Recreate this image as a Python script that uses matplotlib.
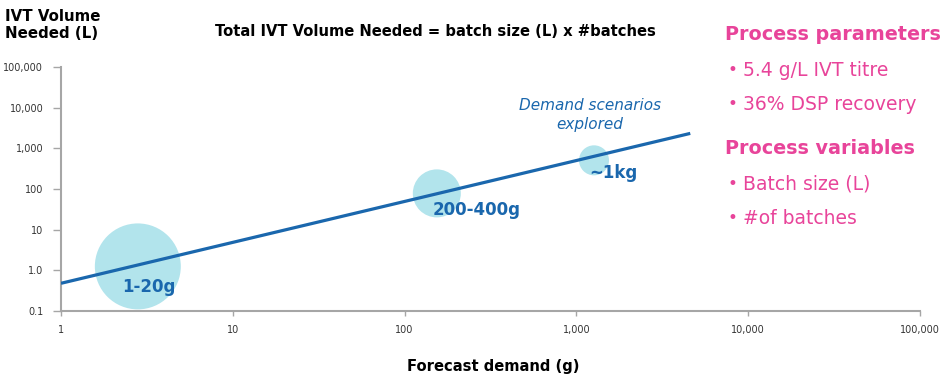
import matplotlib.pyplot as plt

# forecast demand (g) vs IVT volume needed (L)
line_demand = [1, 4600]
line_volume = [0.48, 2330]

scenario_demand = [2.8, 154, 1266]
scenario_volume = [1.25, 78, 507]
scenario_size = [3830, 1195, 467]
scenario_labels = ['1-20g', '200-400g', '~1kg']
label_offsets = [(8, -15), (29, -12), (14, -9)]

tick_vals_x = [1, 10, 100, 1000, 10000, 100000]
tick_labels_x = ['1', '10', '100', '1,000', '10,000', '100,000']
tick_vals_y = [0.1, 1, 10, 100, 1000, 10000, 100000]
tick_labels_y = ['0.1', '1.0', '10', '100', '1,000', '10,000', '100,000']

params = ['5.4 g/L IVT titre', '36% DSP recovery']
variables = ['Batch size (L)', '#of batches']

blue = '#1a67ad'
bubble = '#b2e4ec'
pink = '#e8449a'
grey = '#a6a6a6'

fig = plt.figure(figsize=(9.46, 3.8), dpi=100)
ax = fig.add_axes([61 / 946, 69 / 380, 859 / 946, 244 / 380])

ax.scatter(scenario_demand, scenario_volume, s=scenario_size, color=bubble,
           edgecolors='none', zorder=2)
ax.plot(line_demand, line_volume, color=blue, lw=2.3, zorder=3,
        solid_capstyle='butt')
for x, y, lab, off in zip(scenario_demand, scenario_volume, scenario_labels, label_offsets):
    ax.annotate(lab, (x, y), xytext=off, textcoords='offset points',
                ha='center', va='center', fontsize=12, fontweight='bold',
                color=blue, zorder=4)

ax.set_xscale('log')
ax.set_yscale('log')
ax.set_xlim(1, 100000)
ax.set_ylim(0.1, 100000)
ax.set_xticks(tick_vals_x)
ax.set_xticklabels(tick_labels_x)
ax.set_yticks(tick_vals_y)
ax.set_yticklabels(tick_labels_y)
ax.minorticks_off()
ax.tick_params(axis='x', length=3.6, width=1, color=grey, labelsize=6.9,
               labelcolor='#333333', pad=6.5)
ax.tick_params(axis='y', length=5.8, width=1, color=grey, labelsize=6.9,
               labelcolor='#333333', pad=7)
for side in ['top', 'right']:
    ax.spines[side].set_visible(False)
for side in ['left', 'bottom']:
    ax.spines[side].set_color(grey)
    ax.spines[side].set_linewidth(1.5)
ax.patch.set_alpha(0)

fig.text(590 / 946, 1 - 115 / 380, 'Demand scenarios\nexplored', ha='center', va='center',
         fontsize=11, style='italic', color=blue, linespacing=1.3)

fig.text(5 / 946, 1 - 25 / 380, 'IVT Volume\nNeeded (L)', ha='left', va='center',
         fontsize=10.8, fontweight='bold', linespacing=1.1)
fig.text(435 / 946, 1 - 31 / 380, 'Total IVT Volume Needed = batch size (L) x #batches',
         ha='center', va='center', fontsize=10.6, fontweight='bold')
fig.text(493 / 946, 1 - 366 / 380, 'Forecast demand (g)', ha='center', va='center',
         fontsize=10.6, fontweight='bold')

fig.text(725 / 946, 1 - 35 / 380, 'Process parameters', ha='left', va='center',
         fontsize=13.8, fontweight='bold', color=pink)
fig.text(725 / 946, 1 - 148 / 380, 'Process variables', ha='left', va='center',
         fontsize=13.8, fontweight='bold', color=pink)
bullet_rows = [(70, params[0]), (104, params[1]), (184, variables[0]), (218, variables[1])]
for yp, t in bullet_rows:
    fig.text(727 / 946, 1 - yp / 380, '\u2022', ha='left', va='center',
             fontsize=12, color=pink)
    fig.text(743 / 946, 1 - yp / 380, t, ha='left', va='center',
             fontsize=13.5, color=pink)

fig.savefig('out.png', dpi=100)
